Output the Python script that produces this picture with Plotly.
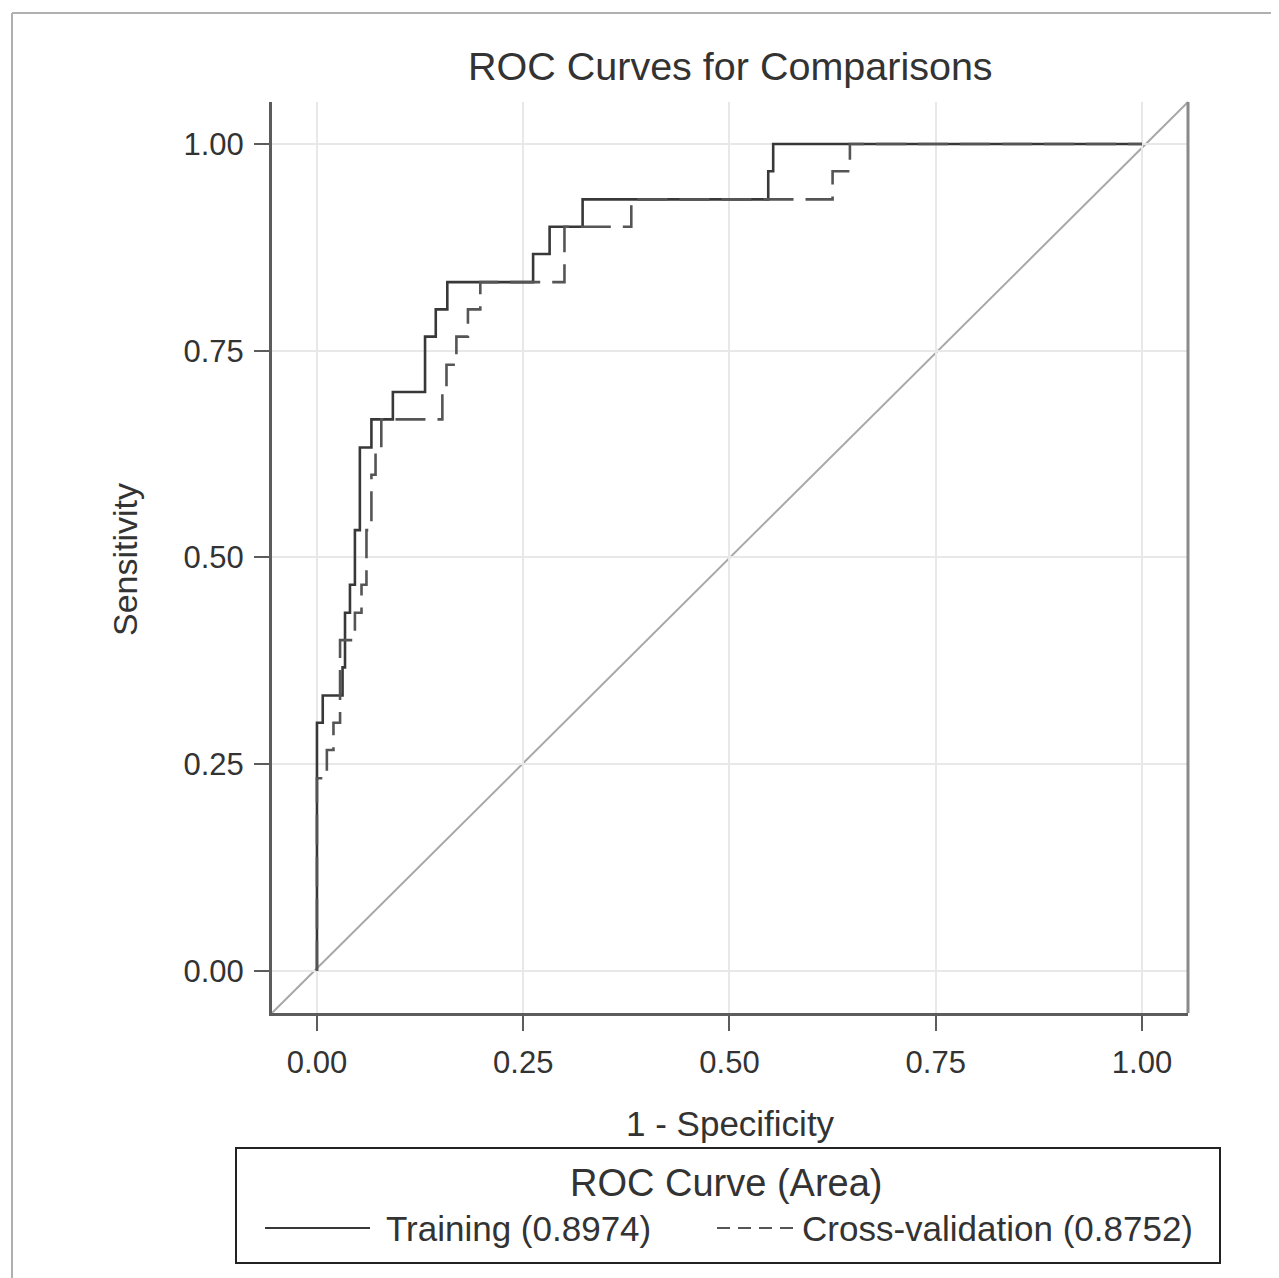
import plotly.graph_objects as go

# ---- data ----
train_fpr = [0.0, 0.0, 0.007, 0.031, 0.034, 0.040, 0.046, 0.052, 0.066, 0.092,
             0.131, 0.144, 0.158, 0.262, 0.282, 0.322, 0.547, 0.553, 1.0]
train_tpr = [0.0, 0.300, 0.333, 0.367, 0.433, 0.467, 0.533, 0.633, 0.667, 0.700,
             0.767, 0.800, 0.833, 0.867, 0.900, 0.933, 0.967, 1.0, 1.0]

cv_fpr = [0.0, 0.0, 0.012, 0.020, 0.028, 0.046, 0.054, 0.060, 0.066, 0.071,
          0.078, 0.152, 0.157, 0.169, 0.183, 0.198, 0.300, 0.381, 0.625, 0.646, 1.0]
cv_tpr = [0.0, 0.233, 0.267, 0.300, 0.400, 0.433, 0.467, 0.533, 0.600, 0.633,
          0.667, 0.700, 0.733, 0.767, 0.800, 0.833, 0.900, 0.933, 0.967, 1.0, 1.0]

series_names = ["Training", "Cross-validation"]
series_areas = [0.8974, 0.8752]
tick_vals = [0.0, 0.25, 0.5, 0.75, 1.0]
tick_text = ["0.00", "0.25", "0.50", "0.75", "1.00"]

FONT = "Liberation Sans, Arial, Helvetica, sans-serif"
TXT = "#333333"
OFF = 8                      # page body margin
W, H = 1279 - OFF, 1278 - OFF
L, R, T, B = 272, 1188, 102, 1013  # plot area in (reference) pixels


def px(x):
    return (x - L) / (R - L)


def py(y):
    return (B - y) / (B - T)


fig = go.Figure()

# diagonal reference line
fig.add_shape(type="line", xref="paper", yref="paper", x0=0, y0=0, x1=1, y1=1,
              line=dict(color="#a8a8a8", width=2), layer="below")

fig.add_trace(go.Scatter(x=train_fpr, y=train_tpr, mode="lines", line_shape="hv",
                         line=dict(color="#383838", width=2.6), name=series_names[0],
                         showlegend=False))
fig.add_trace(go.Scatter(x=cv_fpr, y=cv_tpr, mode="lines", line_shape="hv",
                         line=dict(color="#555555", width=2.6, dash="30px,12px"),
                         name=series_names[1], showlegend=False))

axis_common = dict(
    tickvals=tick_vals, ticktext=tick_text,
    showgrid=True, gridcolor="#e8e8e8", gridwidth=2,
    zeroline=False, showline=True, linecolor="#5c5c5c", linewidth=3,
    ticks="outside", ticklen=15, tickwidth=2, tickcolor="#5c5c5c",
    tickfont=dict(family=FONT, size=31, color=TXT),
)
fig.update_xaxes(range=[-0.0545, 1.0558], ticklabelstandoff=5, **axis_common)
fig.update_yaxes(range=[-0.051, 1.0508], ticklabelstandoff=4, **axis_common)

shapes = []
# top and right plot frame (lighter)
shapes.append(dict(type="line", xref="paper", yref="paper", x0=0, y0=1, x1=1, y1=1,
                   line=dict(color="#a0a0a0", width=3)))
shapes.append(dict(type="line", xref="paper", yref="paper", x0=1, y0=0, x1=1, y1=1,
                   line=dict(color="#8a8a8a", width=3)))
# outer image border
shapes.append(dict(type="line", xref="paper", yref="paper", x0=px(12), y0=py(13), x1=px(12), y1=py(1278),
                   line=dict(color="#b0b0b0", width=2)))
shapes.append(dict(type="line", xref="paper", yref="paper", x0=px(12), y0=py(13), x1=px(1276), y1=py(13),
                   line=dict(color="#b0b0b0", width=2)))
shapes.append(dict(type="line", xref="paper", yref="paper", x0=px(1276), y0=py(13), x1=px(1276), y1=py(1278),
                   line=dict(color="#b0b0b0", width=2)))
# legend box
shapes.append(dict(type="rect", xref="paper", yref="paper", x0=px(236), y0=py(1148), x1=px(1220), y1=py(1263),
                   line=dict(color="#222222", width=2), fillcolor="rgba(0,0,0,0)"))
# legend samples
shapes.append(dict(type="line", xref="paper", yref="paper", x0=px(265), y0=py(1228), x1=px(370), y1=py(1228),
                   line=dict(color="#383838", width=2)))
shapes.append(dict(type="line", xref="paper", yref="paper", x0=px(717), y0=py(1228), x1=px(795), y1=py(1228),
                   line=dict(color="#555555", width=2, dash="13px,8px")))

annotations = [
    dict(text="ROC Curves for Comparisons", x=px(730), y=py(66), xref="paper", yref="paper",
         showarrow=False, xanchor="center", yanchor="middle",
         font=dict(family=FONT, size=39.5, color=TXT)),
    dict(text="1 - Specificity", x=px(730), y=py(1123), xref="paper", yref="paper",
         showarrow=False, xanchor="center", yanchor="middle",
         font=dict(family=FONT, size=35, color=TXT)),
    dict(text="Sensitivity", x=px(125), y=py(560), xref="paper", yref="paper",
         showarrow=False, xanchor="center", yanchor="middle", textangle=-90,
         font=dict(family=FONT, size=34, color=TXT)),
    dict(text="ROC Curve (Area)", x=px(726), y=py(1183), xref="paper", yref="paper",
         showarrow=False, xanchor="center", yanchor="middle",
         font=dict(family=FONT, size=38, color=TXT)),
    dict(text=f"{series_names[0]} ({series_areas[0]:.4f})", x=px(384), y=py(1228),
         xref="paper", yref="paper", showarrow=False, xanchor="left", yanchor="middle",
         font=dict(family=FONT, size=35, color=TXT)),
    dict(text=f"{series_names[1]} ({series_areas[1]:.4f})", x=px(800), y=py(1228),
         xref="paper", yref="paper", showarrow=False, xanchor="left", yanchor="middle",
         font=dict(family=FONT, size=35, color=TXT)),
]

fig.update_layout(
    width=W, height=H,
    margin=dict(l=L - OFF, r=W - (R - OFF), t=T - OFF, b=H - (B - OFF), pad=0),
    paper_bgcolor="white", plot_bgcolor="white",
    shapes=shapes, annotations=annotations,
    showlegend=False,
)

fig.write_html("out.html")
